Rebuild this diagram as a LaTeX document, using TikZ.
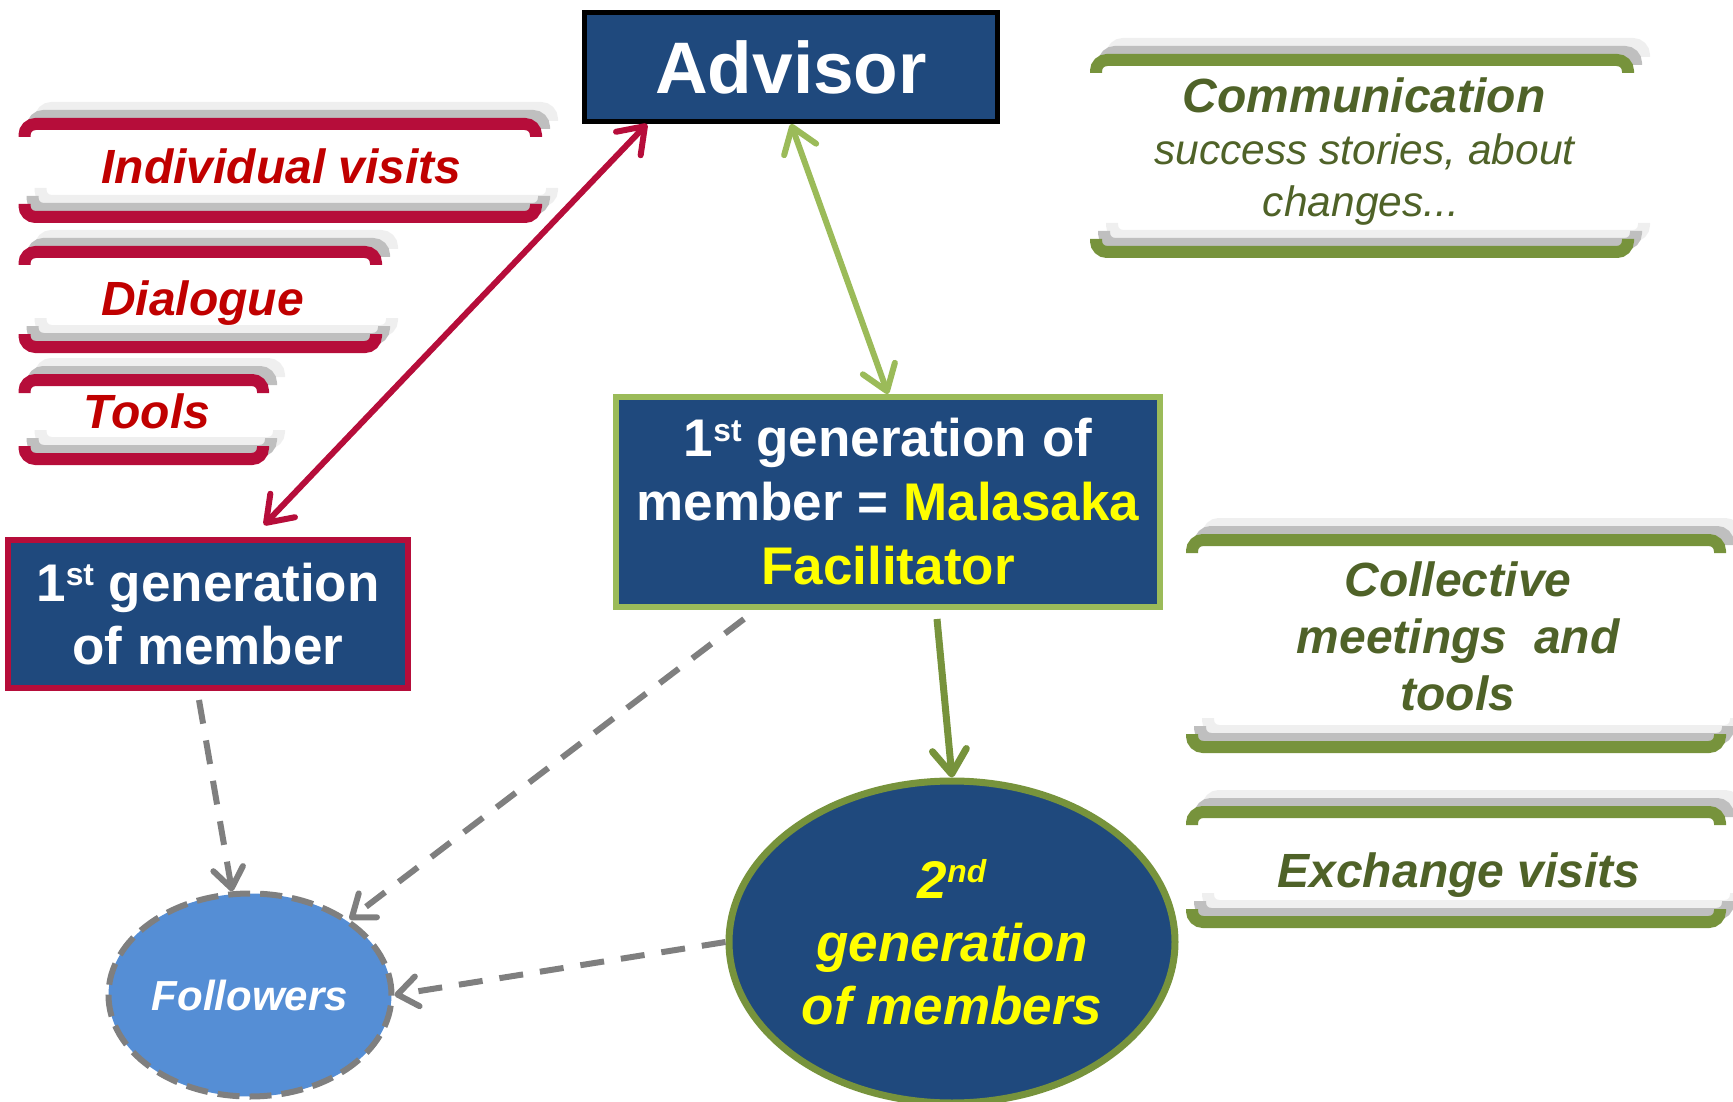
\documentclass[tikz,border=0pt]{standalone}
\usepackage{fontspec}
\usepackage{graphicx}
\setmainfont{Liberation Sans}
\usetikzlibrary{arrows.meta,shapes.geometric}
\definecolor{navy}{HTML}{1F497D}
\definecolor{rred}{HTML}{B60D3A}
\definecolor{tred}{HTML}{C00000}
\definecolor{ogreen}{HTML}{77933C}
\definecolor{lgreen}{HTML}{9BBB59}
\definecolor{tgreen}{HTML}{4F6228}
\definecolor{shdark}{HTML}{BFBFBF}
\definecolor{shlight}{HTML}{EFEFEF}
\definecolor{folfill}{HTML}{558ED5}
\definecolor{dgray}{HTML}{7F7F7F}
\definecolor{hiyel}{HTML}{FFFF00}
\newcommand\supr[1]{\raisebox{.3em}{\scalebox{.6}{#1}}}
% bracket pair: L T R B colour
\newcommand\bracketpair[5]{%
  \foreach \dx/\dy/\cc in {16/-16/shlight, 8/-8/shdark, 0/0/#5}{%
    \draw[draw=\cc, line width=12pt, rounded corners=11pt, shift={(\dx,\dy)}]
      (#1+6,#2+19) -- (#1+6,#2+6) -- (#3-6,#2+6) -- (#3-6,#2+19);
    \draw[draw=\cc, line width=12pt, rounded corners=11pt, shift={(\dx,\dy)}]
      (#1+6,#4-19) -- (#1+6,#4-6) -- (#3-6,#4-6) -- (#3-6,#4-19);
  }%
}
\begin{document}
\begin{tikzpicture}[x=1pt,y=-1pt,
  box/.style={rectangle, fill=navy, text=white, align=center, inner sep=0pt},
  lbl/.style={anchor=base, inner sep=0pt},
  redtxt/.style={lbl, text=tred, font=\fontsize{48}{58}\selectfont\bfseries\itshape},
  grntxt/.style={lbl, text=tgreen, font=\fontsize{48}{57}\selectfont\bfseries\itshape},
  subtxt/.style={lbl, text=tgreen, font=\fontsize{42.5}{52}\selectfont\itshape},
  bigtip/.style={line width=6pt, {Straight Barb[length=24pt,width=34pt,round]}-{Straight Barb[length=24pt,width=34pt,round]}},
  onetip/.style={-{Straight Barb[length=24pt,width=34pt,round]}},
  dashtip/.style={dgray, line width=6pt, dash pattern=on 24pt off 17pt, -{Straight Barb[length=20pt,width=30pt,round]}}
]
\useasboundingbox (0,0) rectangle (1733,1102);

% scroll brackets
\bracketpair{18.5}{118}{542}{223}{rred}
\bracketpair{18.5}{246}{382}{353}{rred}
\bracketpair{18.5}{374}{269}{465}{rred}
\bracketpair{1090}{54}{1634}{258}{ogreen}
\bracketpair{1186}{534}{1726}{753}{ogreen}
\bracketpair{1186}{806}{1726}{928}{ogreen}

% bracket texts
\node[redtxt] (t1) at (281.5,184) {Individual visits};
\node[redtxt] (t2) at (202.5,316) {Dialogue};
\node[redtxt] (t3) at (147,428) {Tools};
\node[grntxt] (c1) at (1364,113) {Communication};
\node[subtxt] (c2) at (1364.5,165) {success stories, about};
\node[subtxt] (c3) at (1361,217) {changes...};
\node[grntxt] (k1) at (1458,596) {Collective};
\node[grntxt] (k2) at (1458,653) {meetings\ \ and};
\node[grntxt] (k3) at (1458,710) {tools};
\node[grntxt] (e1) at (1459,887) {Exchange visits};

% main nodes
\node[box, draw=black, line width=5pt, minimum width=413pt, minimum height=109pt,
      font=\fontsize{73}{80}\selectfont\bfseries] (adv) at (791,67) {Advisor};
\node[box, draw=rred, line width=6pt, minimum width=400pt, minimum height=148pt,
      font=\fontsize{53}{63}\selectfont\bfseries] (lbox) at (208,614) {1\supr{st} generation\\of member};
\node[box, draw=lgreen, line width=6pt, minimum width=544pt, minimum height=210pt,
      font=\fontsize{53}{64}\selectfont\bfseries] (mid) at (888,502)
      {1\supr{st} generation of\\member = \textcolor{hiyel}{Malasaka}\\\textcolor{hiyel}{Facilitator}};
\node[ellipse, fill=navy, draw=ogreen, line width=7pt, minimum width=446pt, minimum height=322pt,
      inner sep=0pt, text=hiyel, align=center, font=\fontsize{53}{63}\selectfont\bfseries\itshape]
      (gen2) at (952,942) {2\supr{nd}\\generation\\of members};
\node[ellipse, fill=folfill, draw=dgray, line width=6pt, dash pattern=on 22pt off 10pt,
      minimum width=283pt, minimum height=203pt, inner sep=0pt, text=white,
      font=\fontsize{42}{50}\selectfont\bfseries\itshape] (fol) at (250,995) {Followers};

% connectors
\draw[rred, bigtip] ([xshift=56pt,yshift=12pt]lbox.north) -- ([xshift=-144pt]adv.south);
\draw[lgreen, bigtip] (adv.south) -- (mid.north);
\draw[ogreen, line width=7pt, onetip] ([xshift=49pt,yshift=-9pt]mid.south) -- (gen2.north);
\draw[dashtip] ([xshift=-9pt,yshift=-9pt]lbox.south) -- (fol);
\draw[dashtip] ([xshift=-144pt,yshift=-9pt]mid.south) -- (fol);
\draw[dashtip] (gen2.west) -- (fol.east);
\end{tikzpicture}
\end{document}
